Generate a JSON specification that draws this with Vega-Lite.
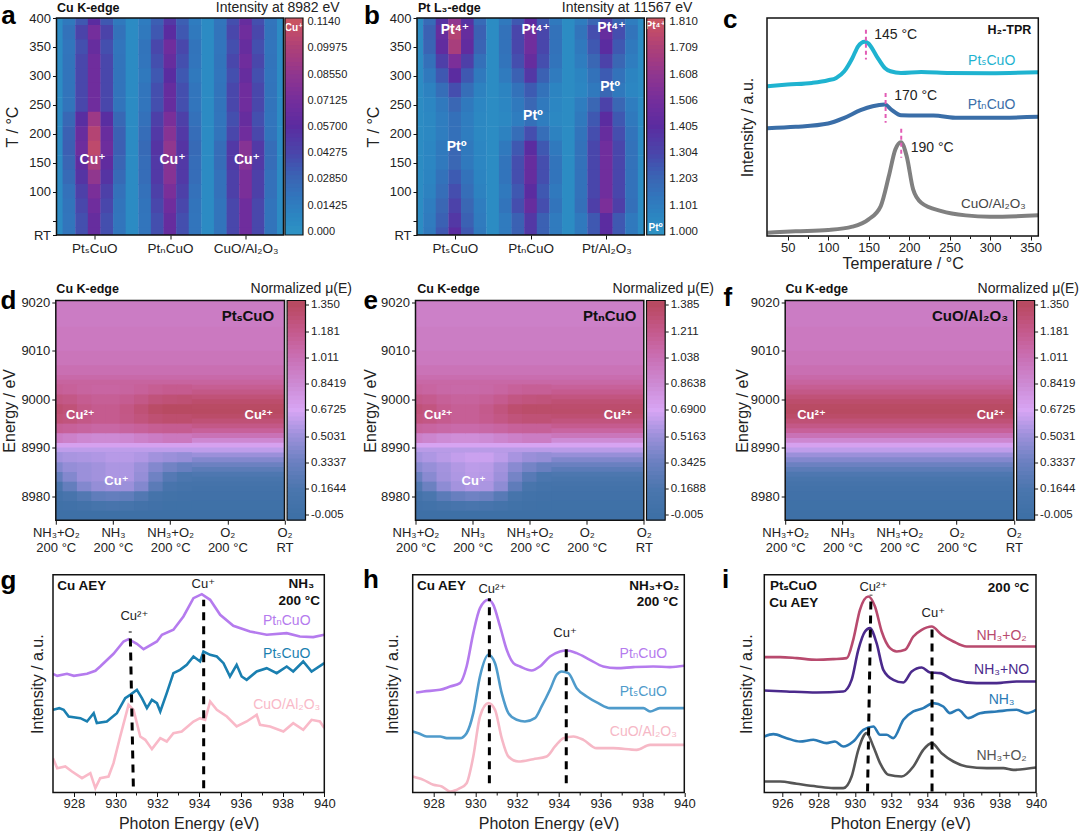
{"$schema":"https://vega.github.io/schema/vega-lite/v6.json","autosize":"pad","padding":0,"background":"white",
"config":{"view":{"stroke":null},"font":"Liberation Sans, DejaVu Sans, sans-serif","axis":{"grid":false,"domain":false,"labelFontSize":13,"titleFontSize":16,"titleFontWeight":"normal","labelColor":"#222","titleColor":"#222","tickColor":"#111","tickSize":4,"labelPadding":2,"labelOverlap":false,"labelFlush":false,"labelBound":false}},
"datasets":{
"cb":[{"t":-0.03},{"t":-0.02},{"t":0},{"t":0.02},{"t":0.04},{"t":0.06},{"t":0.08},{"t":0.1},{"t":0.12},{"t":0.14},{"t":0.16},{"t":0.18},{"t":0.2},{"t":0.22},{"t":0.24},{"t":0.26},{"t":0.28},{"t":0.3},{"t":0.32},{"t":0.34},{"t":0.36},{"t":0.38},{"t":0.4},{"t":0.42},{"t":0.44},{"t":0.46},{"t":0.48},{"t":0.5},{"t":0.52},{"t":0.54},{"t":0.56},{"t":0.58},{"t":0.6},{"t":0.62},{"t":0.64},{"t":0.66},{"t":0.68},{"t":0.7},{"t":0.72},{"t":0.74},{"t":0.76},{"t":0.78},{"t":0.8},{"t":0.82},{"t":0.84},{"t":0.86},{"t":0.88},{"t":0.9},{"t":0.92},{"t":0.94},{"t":0.96},{"t":0.98},{"t":1},{"t":1.02},{"t":1.03}],
"band":[{"y":8975,"y2":8977.3,"v":0},{"y":8977,"y2":8979.3,"v":0.01},{"y":8979,"y2":8981.3,"v":0.03},{"y":8981,"y2":8982.3,"v":0.06},{"y":8982,"y2":8983.3,"v":0.09},{"y":8983,"y2":8984.3,"v":0.13},{"y":8984,"y2":8985.3,"v":0.18},{"y":8985,"y2":8986.3,"v":0.26},{"y":8986,"y2":8987.3,"v":0.34},{"y":8987,"y2":8988.3,"v":0.42},{"y":8988,"y2":8989.3,"v":0.5},{"y":8989,"y2":8990.3,"v":0.6},{"y":8990,"y2":8991.3,"v":0.7},{"y":8991,"y2":8992.3,"v":0.86},{"y":8992,"y2":8993.3,"v":1},{"y":8993,"y2":8994.3,"v":1.12},{"y":8994,"y2":8995.3,"v":1.2},{"y":8995,"y2":8996.3,"v":1.27},{"y":8996,"y2":8997.3,"v":1.32},{"y":8997,"y2":8998.3,"v":1.35},{"y":8998,"y2":8999.3,"v":1.34},{"y":8999,"y2":9000.3,"v":1.31},{"y":9000,"y2":9001.3,"v":1.26},{"y":9001,"y2":9002.3,"v":1.2},{"y":9002,"y2":9003.3,"v":1.15},{"y":9003,"y2":9004.3,"v":1.1},{"y":9004,"y2":9005.3,"v":1.06},{"y":9005,"y2":9007.3,"v":1.02},{"y":9007,"y2":9010.3,"v":0.98},{"y":9010,"y2":9015.3,"v":0.95},{"y":9015,"y2":9021,"v":0.93}],
"up":[{"x":0,"y":8992,"v":0.93},{"x":0.25,"y":8992,"v":0.9},{"x":0.5,"y":8992,"v":0.86},{"x":0.75,"y":8992,"v":0.84},{"x":1,"y":8992,"v":0.84},{"x":1.25,"y":8992,"v":0.86},{"x":1.5,"y":8992,"v":0.9},{"x":1.75,"y":8992,"v":0.93},{"x":2,"y":8992,"v":0.96},{"x":2.25,"y":8992,"v":0.96},
{"x":0,"y":8994,"v":1.14},{"x":0.25,"y":8994,"v":1.12},{"x":0.5,"y":8994,"v":1.1},{"x":0.75,"y":8994,"v":1.08},{"x":1,"y":8994,"v":1.08},{"x":1.25,"y":8994,"v":1.1},{"x":1.5,"y":8994,"v":1.12},{"x":1.75,"y":8994,"v":1.15},{"x":2,"y":8994,"v":1.16},{"x":2.25,"y":8994,"v":1.16},
{"x":0,"y":8996,"v":1.26},{"x":0.25,"y":8996,"v":1.24},{"x":0.5,"y":8996,"v":1.2},{"x":0.75,"y":8996,"v":1.17},{"x":1,"y":8996,"v":1.17},{"x":1.25,"y":8996,"v":1.2},{"x":1.5,"y":8996,"v":1.24},{"x":1.75,"y":8996,"v":1.28},{"x":2,"y":8996,"v":1.3},{"x":2.25,"y":8996,"v":1.3},
{"x":0,"y":8998,"v":1.29},{"x":0.25,"y":8998,"v":1.26},{"x":0.5,"y":8998,"v":1.2},{"x":0.75,"y":8998,"v":1.17},{"x":1,"y":8998,"v":1.17},{"x":1.25,"y":8998,"v":1.21},{"x":1.5,"y":8998,"v":1.27},{"x":1.75,"y":8998,"v":1.33},{"x":2,"y":8998,"v":1.35},{"x":2.25,"y":8998,"v":1.35},
{"x":0,"y":9000,"v":1.22},{"x":0.25,"y":9000,"v":1.2},{"x":0.5,"y":9000,"v":1.16},{"x":0.75,"y":9000,"v":1.14},{"x":1,"y":9000,"v":1.14},{"x":1.25,"y":9000,"v":1.16},{"x":1.5,"y":9000,"v":1.2},{"x":1.75,"y":9000,"v":1.25},{"x":2,"y":9000,"v":1.27},{"x":2.25,"y":9000,"v":1.28},
{"x":0,"y":9002,"v":1.14},{"x":0.25,"y":9002,"v":1.12},{"x":0.5,"y":9002,"v":1.1},{"x":0.75,"y":9002,"v":1.09},{"x":1,"y":9002,"v":1.09},{"x":1.25,"y":9002,"v":1.1},{"x":1.5,"y":9002,"v":1.12},{"x":1.75,"y":9002,"v":1.15},{"x":2,"y":9002,"v":1.17},{"x":2.25,"y":9002,"v":1.17}],
"lowd":[{"x":0,"y":8978,"v":0.02},{"x":0.25,"y":8978,"v":0.03},{"x":0.5,"y":8978,"v":0.06},{"x":0.75,"y":8978,"v":0.1},{"x":1,"y":8978,"v":0.12},{"x":1.25,"y":8978,"v":0.1},{"x":1.5,"y":8978,"v":0.06},{"x":1.75,"y":8978,"v":0.03},{"x":2,"y":8978,"v":0.01},{"x":2.25,"y":8978,"v":0.01},
{"x":0,"y":8980,"v":0.06},{"x":0.25,"y":8980,"v":0.12},{"x":0.5,"y":8980,"v":0.2},{"x":0.75,"y":8980,"v":0.28},{"x":1,"y":8980,"v":0.3},{"x":1.25,"y":8980,"v":0.28},{"x":1.5,"y":8980,"v":0.2},{"x":1.75,"y":8980,"v":0.08},{"x":2,"y":8980,"v":0.04},{"x":2.25,"y":8980,"v":0.03},
{"x":0,"y":8982,"v":0.15},{"x":0.25,"y":8982,"v":0.3},{"x":0.5,"y":8982,"v":0.42},{"x":0.75,"y":8982,"v":0.48},{"x":1,"y":8982,"v":0.5},{"x":1.25,"y":8982,"v":0.5},{"x":1.5,"y":8982,"v":0.42},{"x":1.75,"y":8982,"v":0.25},{"x":2,"y":8982,"v":0.12},{"x":2.25,"y":8982,"v":0.08},
{"x":0,"y":8984,"v":0.3},{"x":0.25,"y":8984,"v":0.42},{"x":0.5,"y":8984,"v":0.5},{"x":0.75,"y":8984,"v":0.52},{"x":1,"y":8984,"v":0.55},{"x":1.25,"y":8984,"v":0.55},{"x":1.5,"y":8984,"v":0.48},{"x":1.75,"y":8984,"v":0.35},{"x":2,"y":8984,"v":0.22},{"x":2.25,"y":8984,"v":0.16},
{"x":0,"y":8986,"v":0.42},{"x":0.25,"y":8986,"v":0.48},{"x":0.5,"y":8986,"v":0.5},{"x":0.75,"y":8986,"v":0.52},{"x":1,"y":8986,"v":0.55},{"x":1.25,"y":8986,"v":0.55},{"x":1.5,"y":8986,"v":0.5},{"x":1.75,"y":8986,"v":0.42},{"x":2,"y":8986,"v":0.36},{"x":2.25,"y":8986,"v":0.32},
{"x":0,"y":8988,"v":0.52},{"x":0.25,"y":8988,"v":0.54},{"x":0.5,"y":8988,"v":0.55},{"x":0.75,"y":8988,"v":0.56},{"x":1,"y":8988,"v":0.58},{"x":1.25,"y":8988,"v":0.58},{"x":1.5,"y":8988,"v":0.56},{"x":1.75,"y":8988,"v":0.52},{"x":2,"y":8988,"v":0.5},{"x":2.25,"y":8988,"v":0.48}],
"lowe":[{"x":0,"y":8978,"v":0.03},{"x":0.25,"y":8978,"v":0.05},{"x":0.5,"y":8978,"v":0.09},{"x":0.75,"y":8978,"v":0.12},{"x":1,"y":8978,"v":0.14},{"x":1.25,"y":8978,"v":0.12},{"x":1.5,"y":8978,"v":0.08},{"x":1.75,"y":8978,"v":0.04},{"x":2,"y":8978,"v":0.02},{"x":2.25,"y":8978,"v":0.01},
{"x":0,"y":8980,"v":0.08},{"x":0.25,"y":8980,"v":0.16},{"x":0.5,"y":8980,"v":0.26},{"x":0.75,"y":8980,"v":0.33},{"x":1,"y":8980,"v":0.36},{"x":1.25,"y":8980,"v":0.34},{"x":1.5,"y":8980,"v":0.24},{"x":1.75,"y":8980,"v":0.1},{"x":2,"y":8980,"v":0.05},{"x":2.25,"y":8980,"v":0.03},
{"x":0,"y":8982,"v":0.2},{"x":0.25,"y":8982,"v":0.35},{"x":0.5,"y":8982,"v":0.47},{"x":0.75,"y":8982,"v":0.54},{"x":1,"y":8982,"v":0.57},{"x":1.25,"y":8982,"v":0.56},{"x":1.5,"y":8982,"v":0.47},{"x":1.75,"y":8982,"v":0.28},{"x":2,"y":8982,"v":0.13},{"x":2.25,"y":8982,"v":0.08},
{"x":0,"y":8984,"v":0.34},{"x":0.25,"y":8984,"v":0.45},{"x":0.5,"y":8984,"v":0.53},{"x":0.75,"y":8984,"v":0.57},{"x":1,"y":8984,"v":0.6},{"x":1.25,"y":8984,"v":0.59},{"x":1.5,"y":8984,"v":0.52},{"x":1.75,"y":8984,"v":0.38},{"x":2,"y":8984,"v":0.24},{"x":2.25,"y":8984,"v":0.16},
{"x":0,"y":8986,"v":0.45},{"x":0.25,"y":8986,"v":0.5},{"x":0.5,"y":8986,"v":0.54},{"x":0.75,"y":8986,"v":0.58},{"x":1,"y":8986,"v":0.61},{"x":1.25,"y":8986,"v":0.6},{"x":1.5,"y":8986,"v":0.54},{"x":1.75,"y":8986,"v":0.45},{"x":2,"y":8986,"v":0.38},{"x":2.25,"y":8986,"v":0.33},
{"x":0,"y":8988,"v":0.54},{"x":0.25,"y":8988,"v":0.57},{"x":0.5,"y":8988,"v":0.6},{"x":0.75,"y":8988,"v":0.63},{"x":1,"y":8988,"v":0.65},{"x":1.25,"y":8988,"v":0.65},{"x":1.5,"y":8988,"v":0.61},{"x":1.75,"y":8988,"v":0.55},{"x":2,"y":8988,"v":0.51},{"x":2.25,"y":8988,"v":0.49}],
"a":[
{"x":3,"y":400,"v":0.005},{"x":4,"y":400,"v":0.017},{"x":5,"y":400,"v":0.035},{"x":6,"y":400,"v":0.057},{"x":7,"y":400,"v":0.035},{"x":8,"y":400,"v":0.017},{"x":9,"y":400,"v":0.005},{"x":10,"y":400,"v":0.015},{"x":11,"y":400,"v":0.032},{"x":12,"y":400,"v":0.051},{"x":13,"y":400,"v":0.032},{"x":14,"y":400,"v":0.015},{"x":15,"y":400,"v":0.005},{"x":16,"y":400,"v":0.019},{"x":17,"y":400,"v":0.039},{"x":18,"y":400,"v":0.063},{"x":19,"y":400,"v":0.039},{"x":20,"y":400,"v":0.019},{"x":21,"y":400,"v":0.005},
{"x":3,"y":375,"v":0.005},{"x":4,"y":375,"v":0.021},{"x":5,"y":375,"v":0.044},{"x":6,"y":375,"v":0.071},{"x":7,"y":375,"v":0.044},{"x":8,"y":375,"v":0.021},{"x":9,"y":375,"v":0.005},{"x":10,"y":375,"v":0.017},{"x":11,"y":375,"v":0.035},{"x":12,"y":375,"v":0.057},{"x":13,"y":375,"v":0.035},{"x":14,"y":375,"v":0.017},{"x":15,"y":375,"v":0.005},{"x":16,"y":375,"v":0.02},{"x":17,"y":375,"v":0.042},{"x":18,"y":375,"v":0.068},{"x":19,"y":375,"v":0.042},{"x":20,"y":375,"v":0.02},{"x":21,"y":375,"v":0.005},
{"x":3,"y":350,"v":0.005},{"x":4,"y":350,"v":0.019},{"x":5,"y":350,"v":0.039},{"x":6,"y":350,"v":0.063},{"x":7,"y":350,"v":0.039},{"x":8,"y":350,"v":0.019},{"x":9,"y":350,"v":0.005},{"x":10,"y":350,"v":0.02},{"x":11,"y":350,"v":0.042},{"x":12,"y":350,"v":0.068},{"x":13,"y":350,"v":0.042},{"x":14,"y":350,"v":0.02},{"x":15,"y":350,"v":0.005},{"x":16,"y":350,"v":0.019},{"x":17,"y":350,"v":0.039},{"x":18,"y":350,"v":0.063},{"x":19,"y":350,"v":0.039},{"x":20,"y":350,"v":0.019},{"x":21,"y":350,"v":0.005},
{"x":3,"y":325,"v":0.005},{"x":4,"y":325,"v":0.02},{"x":5,"y":325,"v":0.042},{"x":6,"y":325,"v":0.068},{"x":7,"y":325,"v":0.042},{"x":8,"y":325,"v":0.02},{"x":9,"y":325,"v":0.005},{"x":10,"y":325,"v":0.019},{"x":11,"y":325,"v":0.039},{"x":12,"y":325,"v":0.063},{"x":13,"y":325,"v":0.039},{"x":14,"y":325,"v":0.019},{"x":15,"y":325,"v":0.005},{"x":16,"y":325,"v":0.02},{"x":17,"y":325,"v":0.042},{"x":18,"y":325,"v":0.068},{"x":19,"y":325,"v":0.042},{"x":20,"y":325,"v":0.02},{"x":21,"y":325,"v":0.005},
{"x":3,"y":300,"v":0.005},{"x":4,"y":300,"v":0.02},{"x":5,"y":300,"v":0.042},{"x":6,"y":300,"v":0.068},{"x":7,"y":300,"v":0.042},{"x":8,"y":300,"v":0.02},{"x":9,"y":300,"v":0.005},{"x":10,"y":300,"v":0.017},{"x":11,"y":300,"v":0.035},{"x":12,"y":300,"v":0.057},{"x":13,"y":300,"v":0.035},{"x":14,"y":300,"v":0.017},{"x":15,"y":300,"v":0.005},{"x":16,"y":300,"v":0.019},{"x":17,"y":300,"v":0.039},{"x":18,"y":300,"v":0.063},{"x":19,"y":300,"v":0.039},{"x":20,"y":300,"v":0.019},{"x":21,"y":300,"v":0.005},
{"x":3,"y":275,"v":0.005},{"x":4,"y":275,"v":0.02},{"x":5,"y":275,"v":0.042},{"x":6,"y":275,"v":0.068},{"x":7,"y":275,"v":0.042},{"x":8,"y":275,"v":0.02},{"x":9,"y":275,"v":0.005},{"x":10,"y":275,"v":0.019},{"x":11,"y":275,"v":0.039},{"x":12,"y":275,"v":0.063},{"x":13,"y":275,"v":0.039},{"x":14,"y":275,"v":0.019},{"x":15,"y":275,"v":0.005},{"x":16,"y":275,"v":0.02},{"x":17,"y":275,"v":0.042},{"x":18,"y":275,"v":0.068},{"x":19,"y":275,"v":0.042},{"x":20,"y":275,"v":0.02},{"x":21,"y":275,"v":0.005},
{"x":3,"y":250,"v":0.005},{"x":4,"y":250,"v":0.02},{"x":5,"y":250,"v":0.042},{"x":6,"y":250,"v":0.068},{"x":7,"y":250,"v":0.042},{"x":8,"y":250,"v":0.02},{"x":9,"y":250,"v":0.005},{"x":10,"y":250,"v":0.019},{"x":11,"y":250,"v":0.039},{"x":12,"y":250,"v":0.063},{"x":13,"y":250,"v":0.039},{"x":14,"y":250,"v":0.019},{"x":15,"y":250,"v":0.005},{"x":16,"y":250,"v":0.02},{"x":17,"y":250,"v":0.042},{"x":18,"y":250,"v":0.068},{"x":19,"y":250,"v":0.042},{"x":20,"y":250,"v":0.02},{"x":21,"y":250,"v":0.005},
{"x":3,"y":225,"v":0.005},{"x":4,"y":225,"v":0.027},{"x":5,"y":225,"v":0.056},{"x":6,"y":225,"v":0.091},{"x":7,"y":225,"v":0.056},{"x":8,"y":225,"v":0.027},{"x":9,"y":225,"v":0.005},{"x":10,"y":225,"v":0.022},{"x":11,"y":225,"v":0.046},{"x":12,"y":225,"v":0.074},{"x":13,"y":225,"v":0.046},{"x":14,"y":225,"v":0.022},{"x":15,"y":225,"v":0.005},{"x":16,"y":225,"v":0.019},{"x":17,"y":225,"v":0.039},{"x":18,"y":225,"v":0.063},{"x":19,"y":225,"v":0.039},{"x":20,"y":225,"v":0.019},{"x":21,"y":225,"v":0.005},
{"x":3,"y":200,"v":0.005},{"x":4,"y":200,"v":0.031},{"x":5,"y":200,"v":0.064},{"x":6,"y":200,"v":0.103},{"x":7,"y":200,"v":0.064},{"x":8,"y":200,"v":0.031},{"x":9,"y":200,"v":0.005},{"x":10,"y":200,"v":0.024},{"x":11,"y":200,"v":0.05},{"x":12,"y":200,"v":0.08},{"x":13,"y":200,"v":0.05},{"x":14,"y":200,"v":0.024},{"x":15,"y":200,"v":0.005},{"x":16,"y":200,"v":0.02},{"x":17,"y":200,"v":0.042},{"x":18,"y":200,"v":0.068},{"x":19,"y":200,"v":0.042},{"x":20,"y":200,"v":0.02},{"x":21,"y":200,"v":0.005},
{"x":3,"y":175,"v":0.005},{"x":4,"y":175,"v":0.032},{"x":5,"y":175,"v":0.067},{"x":6,"y":175,"v":0.108},{"x":7,"y":175,"v":0.067},{"x":8,"y":175,"v":0.032},{"x":9,"y":175,"v":0.005},{"x":10,"y":175,"v":0.026},{"x":11,"y":175,"v":0.053},{"x":12,"y":175,"v":0.086},{"x":13,"y":175,"v":0.053},{"x":14,"y":175,"v":0.026},{"x":15,"y":175,"v":0.005},{"x":16,"y":175,"v":0.024},{"x":17,"y":175,"v":0.05},{"x":18,"y":175,"v":0.08},{"x":19,"y":175,"v":0.05},{"x":20,"y":175,"v":0.024},{"x":21,"y":175,"v":0.005},
{"x":3,"y":150,"v":0.005},{"x":4,"y":150,"v":0.029},{"x":5,"y":150,"v":0.06},{"x":6,"y":150,"v":0.097},{"x":7,"y":150,"v":0.06},{"x":8,"y":150,"v":0.029},{"x":9,"y":150,"v":0.005},{"x":10,"y":150,"v":0.024},{"x":11,"y":150,"v":0.05},{"x":12,"y":150,"v":0.08},{"x":13,"y":150,"v":0.05},{"x":14,"y":150,"v":0.024},{"x":15,"y":150,"v":0.005},{"x":16,"y":150,"v":0.024},{"x":17,"y":150,"v":0.05},{"x":18,"y":150,"v":0.08},{"x":19,"y":150,"v":0.05},{"x":20,"y":150,"v":0.024},{"x":21,"y":150,"v":0.005},
{"x":3,"y":125,"v":0.005},{"x":4,"y":125,"v":0.026},{"x":5,"y":125,"v":0.053},{"x":6,"y":125,"v":0.086},{"x":7,"y":125,"v":0.053},{"x":8,"y":125,"v":0.026},{"x":9,"y":125,"v":0.005},{"x":10,"y":125,"v":0.024},{"x":11,"y":125,"v":0.05},{"x":12,"y":125,"v":0.08},{"x":13,"y":125,"v":0.05},{"x":14,"y":125,"v":0.024},{"x":15,"y":125,"v":0.005},{"x":16,"y":125,"v":0.022},{"x":17,"y":125,"v":0.046},{"x":18,"y":125,"v":0.074},{"x":19,"y":125,"v":0.046},{"x":20,"y":125,"v":0.022},{"x":21,"y":125,"v":0.005},
{"x":3,"y":100,"v":0.005},{"x":4,"y":100,"v":0.022},{"x":5,"y":100,"v":0.046},{"x":6,"y":100,"v":0.074},{"x":7,"y":100,"v":0.046},{"x":8,"y":100,"v":0.022},{"x":9,"y":100,"v":0.005},{"x":10,"y":100,"v":0.022},{"x":11,"y":100,"v":0.046},{"x":12,"y":100,"v":0.074},{"x":13,"y":100,"v":0.046},{"x":14,"y":100,"v":0.022},{"x":15,"y":100,"v":0.005},{"x":16,"y":100,"v":0.022},{"x":17,"y":100,"v":0.046},{"x":18,"y":100,"v":0.074},{"x":19,"y":100,"v":0.046},{"x":20,"y":100,"v":0.022},{"x":21,"y":100,"v":0.005},
{"x":3,"y":75,"v":0.005},{"x":4,"y":75,"v":0.02},{"x":5,"y":75,"v":0.042},{"x":6,"y":75,"v":0.068},{"x":7,"y":75,"v":0.042},{"x":8,"y":75,"v":0.02},{"x":9,"y":75,"v":0.005},{"x":10,"y":75,"v":0.02},{"x":11,"y":75,"v":0.042},{"x":12,"y":75,"v":0.068},{"x":13,"y":75,"v":0.042},{"x":14,"y":75,"v":0.02},{"x":15,"y":75,"v":0.005},{"x":16,"y":75,"v":0.02},{"x":17,"y":75,"v":0.042},{"x":18,"y":75,"v":0.068},{"x":19,"y":75,"v":0.042},{"x":20,"y":75,"v":0.02},{"x":21,"y":75,"v":0.005},
{"x":3,"y":50,"v":0.005},{"x":4,"y":50,"v":0.019},{"x":5,"y":50,"v":0.039},{"x":6,"y":50,"v":0.063},{"x":7,"y":50,"v":0.039},{"x":8,"y":50,"v":0.019},{"x":9,"y":50,"v":0.005},{"x":10,"y":50,"v":0.019},{"x":11,"y":50,"v":0.039},{"x":12,"y":50,"v":0.063},{"x":13,"y":50,"v":0.039},{"x":14,"y":50,"v":0.019},{"x":15,"y":50,"v":0.005},{"x":16,"y":50,"v":0.02},{"x":17,"y":50,"v":0.042},{"x":18,"y":50,"v":0.068},{"x":19,"y":50,"v":0.042},{"x":20,"y":50,"v":0.02},{"x":21,"y":50,"v":0.005},
{"x":3,"y":25,"v":0.005},{"x":4,"y":25,"v":0.019},{"x":5,"y":25,"v":0.039},{"x":6,"y":25,"v":0.063},{"x":7,"y":25,"v":0.039},{"x":8,"y":25,"v":0.019},{"x":9,"y":25,"v":0.005},{"x":10,"y":25,"v":0.019},{"x":11,"y":25,"v":0.039},{"x":12,"y":25,"v":0.063},{"x":13,"y":25,"v":0.039},{"x":14,"y":25,"v":0.019},{"x":15,"y":25,"v":0.005},{"x":16,"y":25,"v":0.02},{"x":17,"y":25,"v":0.042},{"x":18,"y":25,"v":0.068},{"x":19,"y":25,"v":0.042},{"x":20,"y":25,"v":0.02},{"x":21,"y":25,"v":0.005}],
"b":[
{"x":3,"y":400,"v":1.03},{"x":4,"y":400,"v":1.18},{"x":5,"y":400,"v":1.38},{"x":6,"y":400,"v":1.61},{"x":7,"y":400,"v":1.38},{"x":8,"y":400,"v":1.18},{"x":9,"y":400,"v":1.03},{"x":10,"y":400,"v":1.12},{"x":11,"y":400,"v":1.25},{"x":12,"y":400,"v":1.41},{"x":13,"y":400,"v":1.25},{"x":14,"y":400,"v":1.12},{"x":15,"y":400,"v":1.03},{"x":16,"y":400,"v":1.1},{"x":17,"y":400,"v":1.2},{"x":18,"y":400,"v":1.32},{"x":19,"y":400,"v":1.2},{"x":20,"y":400,"v":1.1},{"x":21,"y":400,"v":1.03},
{"x":3,"y":375,"v":1.03},{"x":4,"y":375,"v":1.22},{"x":5,"y":375,"v":1.45},{"x":6,"y":375,"v":1.73},{"x":7,"y":375,"v":1.45},{"x":8,"y":375,"v":1.22},{"x":9,"y":375,"v":1.03},{"x":10,"y":375,"v":1.15},{"x":11,"y":375,"v":1.3},{"x":12,"y":375,"v":1.49},{"x":13,"y":375,"v":1.3},{"x":14,"y":375,"v":1.15},{"x":15,"y":375,"v":1.03},{"x":16,"y":375,"v":1.14},{"x":17,"y":375,"v":1.28},{"x":18,"y":375,"v":1.45},{"x":19,"y":375,"v":1.28},{"x":20,"y":375,"v":1.14},{"x":21,"y":375,"v":1.03},
{"x":3,"y":350,"v":1.03},{"x":4,"y":350,"v":1.21},{"x":5,"y":350,"v":1.43},{"x":6,"y":350,"v":1.69},{"x":7,"y":350,"v":1.43},{"x":8,"y":350,"v":1.21},{"x":9,"y":350,"v":1.03},{"x":10,"y":350,"v":1.15},{"x":11,"y":350,"v":1.3},{"x":12,"y":350,"v":1.49},{"x":13,"y":350,"v":1.3},{"x":14,"y":350,"v":1.15},{"x":15,"y":350,"v":1.03},{"x":16,"y":350,"v":1.12},{"x":17,"y":350,"v":1.25},{"x":18,"y":350,"v":1.41},{"x":19,"y":350,"v":1.25},{"x":20,"y":350,"v":1.12},{"x":21,"y":350,"v":1.03},
{"x":3,"y":325,"v":1.03},{"x":4,"y":325,"v":1.16},{"x":5,"y":325,"v":1.33},{"x":6,"y":325,"v":1.53},{"x":7,"y":325,"v":1.33},{"x":8,"y":325,"v":1.16},{"x":9,"y":325,"v":1.03},{"x":10,"y":325,"v":1.14},{"x":11,"y":325,"v":1.28},{"x":12,"y":325,"v":1.45},{"x":13,"y":325,"v":1.28},{"x":14,"y":325,"v":1.14},{"x":15,"y":325,"v":1.03},{"x":16,"y":325,"v":1.1},{"x":17,"y":325,"v":1.2},{"x":18,"y":325,"v":1.32},{"x":19,"y":325,"v":1.2},{"x":20,"y":325,"v":1.1},{"x":21,"y":325,"v":1.03},
{"x":3,"y":300,"v":1.03},{"x":4,"y":300,"v":1.12},{"x":5,"y":300,"v":1.25},{"x":6,"y":300,"v":1.41},{"x":7,"y":300,"v":1.25},{"x":8,"y":300,"v":1.12},{"x":9,"y":300,"v":1.03},{"x":10,"y":300,"v":1.11},{"x":11,"y":300,"v":1.22},{"x":12,"y":300,"v":1.36},{"x":13,"y":300,"v":1.22},{"x":14,"y":300,"v":1.11},{"x":15,"y":300,"v":1.03},{"x":16,"y":300,"v":1.07},{"x":17,"y":300,"v":1.15},{"x":18,"y":300,"v":1.24},{"x":19,"y":300,"v":1.15},{"x":20,"y":300,"v":1.07},{"x":21,"y":300,"v":1.03},
{"x":3,"y":275,"v":1.03},{"x":4,"y":275,"v":1.08},{"x":5,"y":275,"v":1.17},{"x":6,"y":275,"v":1.28},{"x":7,"y":275,"v":1.17},{"x":8,"y":275,"v":1.08},{"x":9,"y":275,"v":1.03},{"x":10,"y":275,"v":1.07},{"x":11,"y":275,"v":1.15},{"x":12,"y":275,"v":1.24},{"x":13,"y":275,"v":1.15},{"x":14,"y":275,"v":1.07},{"x":15,"y":275,"v":1.03},{"x":16,"y":275,"v":1.06},{"x":17,"y":275,"v":1.12},{"x":18,"y":275,"v":1.2},{"x":19,"y":275,"v":1.12},{"x":20,"y":275,"v":1.06},{"x":21,"y":275,"v":1.03},
{"x":3,"y":250,"v":1.03},{"x":4,"y":250,"v":1.06},{"x":5,"y":250,"v":1.12},{"x":6,"y":250,"v":1.2},{"x":7,"y":250,"v":1.12},{"x":8,"y":250,"v":1.06},{"x":9,"y":250,"v":1.03},{"x":10,"y":250,"v":1.06},{"x":11,"y":250,"v":1.12},{"x":12,"y":250,"v":1.2},{"x":13,"y":250,"v":1.12},{"x":14,"y":250,"v":1.06},{"x":15,"y":250,"v":1.03},{"x":16,"y":250,"v":1.1},{"x":17,"y":250,"v":1.2},{"x":18,"y":250,"v":1.32},{"x":19,"y":250,"v":1.2},{"x":20,"y":250,"v":1.1},{"x":21,"y":250,"v":1.03},
{"x":3,"y":225,"v":1.03},{"x":4,"y":225,"v":1.05},{"x":5,"y":225,"v":1.1},{"x":6,"y":225,"v":1.16},{"x":7,"y":225,"v":1.1},{"x":8,"y":225,"v":1.05},{"x":9,"y":225,"v":1.03},{"x":10,"y":225,"v":1.05},{"x":11,"y":225,"v":1.1},{"x":12,"y":225,"v":1.16},{"x":13,"y":225,"v":1.1},{"x":14,"y":225,"v":1.05},{"x":15,"y":225,"v":1.03},{"x":16,"y":225,"v":1.12},{"x":17,"y":225,"v":1.25},{"x":18,"y":225,"v":1.41},{"x":19,"y":225,"v":1.25},{"x":20,"y":225,"v":1.12},{"x":21,"y":225,"v":1.03},
{"x":3,"y":200,"v":1.03},{"x":4,"y":200,"v":1.05},{"x":5,"y":200,"v":1.1},{"x":6,"y":200,"v":1.16},{"x":7,"y":200,"v":1.1},{"x":8,"y":200,"v":1.05},{"x":9,"y":200,"v":1.03},{"x":10,"y":200,"v":1.08},{"x":11,"y":200,"v":1.17},{"x":12,"y":200,"v":1.28},{"x":13,"y":200,"v":1.17},{"x":14,"y":200,"v":1.08},{"x":15,"y":200,"v":1.03},{"x":16,"y":200,"v":1.14},{"x":17,"y":200,"v":1.28},{"x":18,"y":200,"v":1.45},{"x":19,"y":200,"v":1.28},{"x":20,"y":200,"v":1.14},{"x":21,"y":200,"v":1.03},
{"x":3,"y":175,"v":1.03},{"x":4,"y":175,"v":1.06},{"x":5,"y":175,"v":1.12},{"x":6,"y":175,"v":1.2},{"x":7,"y":175,"v":1.12},{"x":8,"y":175,"v":1.06},{"x":9,"y":175,"v":1.03},{"x":10,"y":175,"v":1.12},{"x":11,"y":175,"v":1.25},{"x":12,"y":175,"v":1.41},{"x":13,"y":175,"v":1.25},{"x":14,"y":175,"v":1.12},{"x":15,"y":175,"v":1.03},{"x":16,"y":175,"v":1.15},{"x":17,"y":175,"v":1.3},{"x":18,"y":175,"v":1.49},{"x":19,"y":175,"v":1.3},{"x":20,"y":175,"v":1.15},{"x":21,"y":175,"v":1.03},
{"x":3,"y":150,"v":1.03},{"x":4,"y":150,"v":1.06},{"x":5,"y":150,"v":1.12},{"x":6,"y":150,"v":1.2},{"x":7,"y":150,"v":1.12},{"x":8,"y":150,"v":1.06},{"x":9,"y":150,"v":1.03},{"x":10,"y":150,"v":1.14},{"x":11,"y":150,"v":1.28},{"x":12,"y":150,"v":1.45},{"x":13,"y":150,"v":1.28},{"x":14,"y":150,"v":1.14},{"x":15,"y":150,"v":1.03},{"x":16,"y":150,"v":1.15},{"x":17,"y":150,"v":1.3},{"x":18,"y":150,"v":1.49},{"x":19,"y":150,"v":1.3},{"x":20,"y":150,"v":1.15},{"x":21,"y":150,"v":1.03},
{"x":3,"y":125,"v":1.03},{"x":4,"y":125,"v":1.07},{"x":5,"y":125,"v":1.15},{"x":6,"y":125,"v":1.24},{"x":7,"y":125,"v":1.15},{"x":8,"y":125,"v":1.07},{"x":9,"y":125,"v":1.03},{"x":10,"y":125,"v":1.14},{"x":11,"y":125,"v":1.28},{"x":12,"y":125,"v":1.45},{"x":13,"y":125,"v":1.28},{"x":14,"y":125,"v":1.14},{"x":15,"y":125,"v":1.03},{"x":16,"y":125,"v":1.15},{"x":17,"y":125,"v":1.3},{"x":18,"y":125,"v":1.49},{"x":19,"y":125,"v":1.3},{"x":20,"y":125,"v":1.15},{"x":21,"y":125,"v":1.03},
{"x":3,"y":100,"v":1.03},{"x":4,"y":100,"v":1.08},{"x":5,"y":100,"v":1.17},{"x":6,"y":100,"v":1.28},{"x":7,"y":100,"v":1.17},{"x":8,"y":100,"v":1.08},{"x":9,"y":100,"v":1.03},{"x":10,"y":100,"v":1.12},{"x":11,"y":100,"v":1.25},{"x":12,"y":100,"v":1.41},{"x":13,"y":100,"v":1.25},{"x":14,"y":100,"v":1.12},{"x":15,"y":100,"v":1.03},{"x":16,"y":100,"v":1.15},{"x":17,"y":100,"v":1.3},{"x":18,"y":100,"v":1.49},{"x":19,"y":100,"v":1.3},{"x":20,"y":100,"v":1.15},{"x":21,"y":100,"v":1.03},
{"x":3,"y":75,"v":1.03},{"x":4,"y":75,"v":1.1},{"x":5,"y":75,"v":1.2},{"x":6,"y":75,"v":1.32},{"x":7,"y":75,"v":1.2},{"x":8,"y":75,"v":1.1},{"x":9,"y":75,"v":1.03},{"x":10,"y":75,"v":1.14},{"x":11,"y":75,"v":1.28},{"x":12,"y":75,"v":1.45},{"x":13,"y":75,"v":1.28},{"x":14,"y":75,"v":1.14},{"x":15,"y":75,"v":1.03},{"x":16,"y":75,"v":1.16},{"x":17,"y":75,"v":1.33},{"x":18,"y":75,"v":1.53},{"x":19,"y":75,"v":1.33},{"x":20,"y":75,"v":1.16},{"x":21,"y":75,"v":1.03},
{"x":3,"y":50,"v":1.03},{"x":4,"y":50,"v":1.11},{"x":5,"y":50,"v":1.22},{"x":6,"y":50,"v":1.36},{"x":7,"y":50,"v":1.22},{"x":8,"y":50,"v":1.11},{"x":9,"y":50,"v":1.03},{"x":10,"y":50,"v":1.11},{"x":11,"y":50,"v":1.22},{"x":12,"y":50,"v":1.36},{"x":13,"y":50,"v":1.22},{"x":14,"y":50,"v":1.11},{"x":15,"y":50,"v":1.03},{"x":16,"y":50,"v":1.12},{"x":17,"y":50,"v":1.25},{"x":18,"y":50,"v":1.41},{"x":19,"y":50,"v":1.25},{"x":20,"y":50,"v":1.12},{"x":21,"y":50,"v":1.03},
{"x":3,"y":25,"v":1.03},{"x":4,"y":25,"v":1.12},{"x":5,"y":25,"v":1.25},{"x":6,"y":25,"v":1.41},{"x":7,"y":25,"v":1.25},{"x":8,"y":25,"v":1.12},{"x":9,"y":25,"v":1.03},{"x":10,"y":25,"v":1.11},{"x":11,"y":25,"v":1.22},{"x":12,"y":25,"v":1.36},{"x":13,"y":25,"v":1.22},{"x":14,"y":25,"v":1.11},{"x":15,"y":25,"v":1.03},{"x":16,"y":25,"v":1.12},{"x":17,"y":25,"v":1.25},{"x":18,"y":25,"v":1.41},{"x":19,"y":25,"v":1.25},{"x":20,"y":25,"v":1.12},{"x":21,"y":25,"v":1.03}],
"c":[{"s":"S","x":25,"y":450},{"s":"S","x":50,"y":455},{"s":"S","x":80,"y":460},{"s":"S","x":100,"y":468},{"s":"S","x":110,"y":475},{"s":"S","x":120,"y":495},{"s":"S","x":130,"y":535},{"s":"S","x":137,"y":570},{"s":"S","x":145,"y":584},{"s":"S","x":150,"y":578},{"s":"S","x":160,"y":540},{"s":"S","x":170,"y":505},{"s":"S","x":177,"y":495},{"s":"S","x":190,"y":490},{"s":"S","x":215,"y":493},{"s":"S","x":250,"y":490},{"s":"S","x":300,"y":489},{"s":"S","x":360,"y":492},
{"s":"N","x":25,"y":324},{"s":"N","x":60,"y":328},{"s":"N","x":100,"y":338},{"s":"N","x":120,"y":355},{"s":"N","x":140,"y":378},{"s":"N","x":155,"y":390},{"s":"N","x":170,"y":395},{"s":"N","x":178,"y":380},{"s":"N","x":190,"y":363},{"s":"N","x":210,"y":362},{"s":"N","x":230,"y":362},{"s":"N","x":260,"y":355},{"s":"N","x":300,"y":355},{"s":"N","x":360,"y":358},
{"s":"A","x":25,"y":10},{"s":"A","x":60,"y":14},{"s":"A","x":100,"y":18},{"s":"A","x":130,"y":28},{"s":"A","x":150,"y":50},{"s":"A","x":165,"y":90},{"s":"A","x":175,"y":180},{"s":"A","x":183,"y":260},{"s":"A","x":190,"y":282},{"s":"A","x":197,"y":240},{"s":"A","x":205,"y":140},{"s":"A","x":215,"y":100},{"s":"A","x":240,"y":75},{"s":"A","x":270,"y":62},{"s":"A","x":300,"y":58},{"s":"A","x":360,"y":62}],
"g":[{"s":"N","x":927,"y":356},{"s":"N","x":927.2,"y":350},{"s":"N","x":927.67,"y":356},{"s":"N","x":928,"y":350},{"s":"N","x":928.63,"y":356},{"s":"N","x":929.03,"y":365},{"s":"N","x":929.26,"y":378},{"s":"N","x":929.9,"y":416},{"s":"N","x":930.38,"y":453},{"s":"N","x":930.62,"y":460},{"s":"N","x":931.02,"y":446},{"s":"N","x":931.34,"y":430},{"s":"N","x":931.98,"y":453},{"s":"N","x":932.22,"y":473},{"s":"N","x":932.77,"y":488},{"s":"N","x":933.25,"y":528},{"s":"N","x":933.73,"y":583},{"s":"N","x":934.13,"y":595},{"s":"N","x":934.53,"y":578},{"s":"N","x":935.01,"y":533},{"s":"N","x":935.64,"y":500},{"s":"N","x":936.44,"y":483},{"s":"N","x":937.24,"y":473},{"s":"N","x":938.2,"y":478},{"s":"N","x":938.83,"y":468},{"s":"N","x":939.47,"y":466},{"s":"N","x":940,"y":473},
{"s":"S","x":927,"y":248},{"s":"S","x":927.3,"y":253},{"s":"S","x":927.51,"y":248},{"s":"S","x":927.75,"y":228},{"s":"S","x":928.31,"y":223},{"s":"S","x":928.63,"y":213},{"s":"S","x":928.95,"y":238},{"s":"S","x":929.1,"y":208},{"s":"S","x":929.58,"y":213},{"s":"S","x":930.06,"y":238},{"s":"S","x":930.46,"y":283},{"s":"S","x":930.7,"y":293},{"s":"S","x":931.02,"y":308},{"s":"S","x":931.26,"y":283},{"s":"S","x":931.5,"y":253},{"s":"S","x":931.74,"y":278},{"s":"S","x":931.98,"y":268},{"s":"S","x":932.14,"y":243},{"s":"S","x":932.45,"y":298},{"s":"S","x":932.77,"y":358},{"s":"S","x":933.09,"y":368},{"s":"S","x":933.41,"y":383},{"s":"S","x":933.73,"y":408},{"s":"S","x":934.05,"y":393},{"s":"S","x":934.21,"y":423},{"s":"S","x":934.53,"y":413},{"s":"S","x":934.85,"y":408},{"s":"S","x":935.17,"y":388},{"s":"S","x":935.48,"y":348},{"s":"S","x":935.8,"y":383},{"s":"S","x":936.04,"y":348},{"s":"S","x":936.28,"y":338},{"s":"S","x":936.76,"y":363},{"s":"S","x":937.24,"y":373},{"s":"S","x":937.72,"y":358},{"s":"S","x":938.2,"y":378},{"s":"S","x":938.51,"y":363},{"s":"S","x":938.99,"y":393},{"s":"S","x":939.39,"y":363},{"s":"S","x":940,"y":388},
{"s":"A","x":927,"y":103},{"s":"A","x":927.2,"y":73},{"s":"A","x":927.59,"y":78},{"s":"A","x":927.91,"y":63},{"s":"A","x":928.39,"y":43},{"s":"A","x":928.79,"y":58},{"s":"A","x":929.03,"y":13},{"s":"A","x":929.26,"y":43},{"s":"A","x":929.66,"y":48},{"s":"A","x":929.9,"y":88},{"s":"A","x":930.22,"y":168},{"s":"A","x":930.62,"y":263},{"s":"A","x":930.86,"y":248},{"s":"A","x":931.18,"y":168},{"s":"A","x":931.42,"y":158},{"s":"A","x":931.74,"y":130},{"s":"A","x":932.14,"y":163},{"s":"A","x":932.45,"y":153},{"s":"A","x":932.77,"y":178},{"s":"A","x":933.17,"y":183},{"s":"A","x":933.73,"y":213},{"s":"A","x":934.05,"y":223},{"s":"A","x":934.29,"y":218},{"s":"A","x":934.53,"y":273},{"s":"A","x":934.85,"y":248},{"s":"A","x":935.33,"y":228},{"s":"A","x":935.8,"y":198},{"s":"A","x":936.28,"y":213},{"s":"A","x":936.76,"y":233},{"s":"A","x":936.92,"y":203},{"s":"A","x":937.4,"y":198},{"s":"A","x":938.04,"y":183},{"s":"A","x":938.51,"y":208},{"s":"A","x":938.99,"y":188},{"s":"A","x":939.39,"y":218},{"s":"A","x":939.79,"y":213},{"s":"A","x":940,"y":193}],
"h":[{"s":"N","x":927.16,"y":300},{"s":"N","x":927.51,"y":303},{"s":"N","x":928.31,"y":308},{"s":"N","x":928.79,"y":318},{"s":"N","x":929.26,"y":328},{"s":"N","x":929.58,"y":378},{"s":"N","x":929.9,"y":478},{"s":"N","x":930.22,"y":553},{"s":"N","x":930.62,"y":578},{"s":"N","x":930.86,"y":563},{"s":"N","x":931.18,"y":498},{"s":"N","x":931.5,"y":428},{"s":"N","x":931.82,"y":388},{"s":"N","x":932.14,"y":378},{"s":"N","x":932.69,"y":366},{"s":"N","x":933.09,"y":378},{"s":"N","x":933.57,"y":408},{"s":"N","x":934.05,"y":423},{"s":"N","x":934.37,"y":426},{"s":"N","x":934.85,"y":418},{"s":"N","x":935.48,"y":398},{"s":"N","x":936.12,"y":378},{"s":"N","x":936.76,"y":373},{"s":"N","x":937.56,"y":376},{"s":"N","x":938.51,"y":378},{"s":"N","x":939.31,"y":376},{"s":"N","x":940,"y":380},
{"s":"S","x":927,"y":183},{"s":"S","x":927.27,"y":178},{"s":"S","x":927.67,"y":168},{"s":"S","x":928.31,"y":168},{"s":"S","x":928.63,"y":163},{"s":"S","x":929.26,"y":163},{"s":"S","x":929.58,"y":178},{"s":"S","x":929.9,"y":238},{"s":"S","x":930.22,"y":348},{"s":"S","x":930.62,"y":413},{"s":"S","x":930.94,"y":388},{"s":"S","x":931.26,"y":298},{"s":"S","x":931.58,"y":238},{"s":"S","x":931.98,"y":218},{"s":"S","x":932.37,"y":213},{"s":"S","x":932.85,"y":223},{"s":"S","x":933.17,"y":258},{"s":"S","x":933.57,"y":308},{"s":"S","x":933.89,"y":353},{"s":"S","x":934.13,"y":363},{"s":"S","x":934.45,"y":358},{"s":"S","x":934.85,"y":313},{"s":"S","x":935.33,"y":288},{"s":"S","x":935.88,"y":268},{"s":"S","x":936.44,"y":253},{"s":"S","x":937.24,"y":253},{"s":"S","x":938.04,"y":253},{"s":"S","x":938.36,"y":243},{"s":"S","x":938.83,"y":253},{"s":"S","x":940,"y":253},
{"s":"A","x":927,"y":48},{"s":"A","x":927.51,"y":38},{"s":"A","x":927.99,"y":23},{"s":"A","x":928.39,"y":18},{"s":"A","x":928.79,"y":3},{"s":"A","x":929.26,"y":13},{"s":"A","x":929.58,"y":28},{"s":"A","x":929.9,"y":108},{"s":"A","x":930.22,"y":228},{"s":"A","x":930.62,"y":268},{"s":"A","x":930.94,"y":248},{"s":"A","x":931.26,"y":163},{"s":"A","x":931.58,"y":108},{"s":"A","x":932.06,"y":93},{"s":"A","x":932.77,"y":100},{"s":"A","x":933.41,"y":108},{"s":"A","x":933.81,"y":138},{"s":"A","x":934.21,"y":163},{"s":"A","x":934.69,"y":168},{"s":"A","x":935.17,"y":158},{"s":"A","x":935.8,"y":133},{"s":"A","x":936.6,"y":133},{"s":"A","x":937.72,"y":128},{"s":"A","x":938.36,"y":143},{"s":"A","x":939.31,"y":143},{"s":"A","x":940,"y":143}],
"i":[{"s":"R","x":925,"y":406},{"s":"R","x":925.87,"y":406},{"s":"R","x":926.79,"y":403},{"s":"R","x":927.89,"y":398},{"s":"R","x":928.81,"y":400},{"s":"R","x":929.55,"y":403},{"s":"R","x":929.91,"y":458},{"s":"R","x":930.28,"y":548},{"s":"R","x":930.74,"y":588},{"s":"R","x":931.11,"y":558},{"s":"R","x":931.48,"y":483},{"s":"R","x":931.94,"y":433},{"s":"R","x":932.31,"y":423},{"s":"R","x":932.77,"y":428},{"s":"R","x":933.23,"y":468},{"s":"R","x":933.69,"y":488},{"s":"R","x":934.24,"y":498},{"s":"R","x":934.79,"y":473},{"s":"R","x":935.44,"y":453},{"s":"R","x":936.17,"y":438},{"s":"R","x":937.28,"y":438},{"s":"R","x":938.75,"y":438},{"s":"R","x":940,"y":438},
{"s":"P","x":925,"y":306},{"s":"P","x":926.23,"y":303},{"s":"P","x":927.89,"y":300},{"s":"P","x":929.36,"y":303},{"s":"P","x":929.82,"y":338},{"s":"P","x":930.19,"y":428},{"s":"P","x":930.56,"y":483},{"s":"P","x":930.83,"y":493},{"s":"P","x":931.2,"y":448},{"s":"P","x":931.57,"y":368},{"s":"P","x":932.12,"y":338},{"s":"P","x":932.68,"y":330},{"s":"P","x":933.14,"y":363},{"s":"P","x":933.69,"y":375},{"s":"P","x":934.15,"y":360},{"s":"P","x":934.7,"y":358},{"s":"P","x":935.44,"y":338},{"s":"P","x":936.72,"y":328},{"s":"P","x":937.83,"y":328},{"s":"P","x":938.93,"y":333},{"s":"P","x":940,"y":333},
{"s":"B","x":925,"y":168},{"s":"B","x":925.5,"y":175},{"s":"B","x":926.23,"y":163},{"s":"B","x":926.97,"y":153},{"s":"B","x":927.71,"y":158},{"s":"B","x":928.44,"y":148},{"s":"B","x":928.9,"y":153},{"s":"B","x":929.36,"y":138},{"s":"B","x":929.91,"y":153},{"s":"B","x":930.47,"y":188},{"s":"B","x":931.02,"y":198},{"s":"B","x":931.39,"y":173},{"s":"B","x":931.75,"y":173},{"s":"B","x":932.12,"y":163},{"s":"B","x":932.68,"y":218},{"s":"B","x":933.23,"y":243},{"s":"B","x":933.78,"y":253},{"s":"B","x":934.33,"y":268},{"s":"B","x":934.88,"y":258},{"s":"B","x":935.25,"y":238},{"s":"B","x":935.71,"y":248},{"s":"B","x":936.26,"y":223},{"s":"B","x":936.91,"y":238},{"s":"B","x":937.83,"y":243},{"s":"B","x":938.93,"y":248},{"s":"B","x":939.49,"y":238},{"s":"B","x":940,"y":248},
{"s":"G","x":925,"y":33},{"s":"G","x":925.87,"y":33},{"s":"G","x":926.79,"y":26},{"s":"G","x":927.89,"y":18},{"s":"G","x":928.81,"y":13},{"s":"G","x":929.36,"y":13},{"s":"G","x":929.82,"y":48},{"s":"G","x":930.19,"y":128},{"s":"G","x":930.65,"y":178},{"s":"G","x":931.02,"y":138},{"s":"G","x":931.39,"y":88},{"s":"G","x":931.85,"y":53},{"s":"G","x":932.58,"y":48},{"s":"G","x":933.23,"y":78},{"s":"G","x":933.78,"y":128},{"s":"G","x":934.24,"y":148},{"s":"G","x":934.79,"y":118},{"s":"G","x":935.44,"y":93},{"s":"G","x":936.17,"y":78},{"s":"G","x":937.28,"y":73},{"s":"G","x":938.2,"y":73},{"s":"G","x":938.75,"y":68},{"s":"G","x":940,"y":75}]
},
"bounds":"flush","spacing":282.5,"resolve":{"scale":{"color":"independent"}},
"vconcat":[
{"bounds":"flush","spacing":2.5,"resolve":{"scale":{"color":"independent"}},"hconcat":[{"width":0.5,"height":1,"data":{"values":[]},"mark":"rect"},
 {"bounds":"flush","spacing":360.5,"resolve":{"scale":{"color":"independent"}},"hconcat":[
  {"bounds":"flush","spacing":1.5,"resolve":{"scale":{"color":"independent"}},"hconcat":[
   {"width":227,"height":217,"layer":[{"encoding":{"x":{"field":"x","type":"quantitative","scale":{"domain":[3,21],"nice":false,"zero":false},"axis":{"values":[6,12,18],"title":null,"labelFontSize":13.5,"labelExpr":"['PtₛCuO','PtₙCuO','CuO/Al₂O₃'][datum.value/6-1]"}},"y":{"field":"y","type":"quantitative","scale":{"domain":[25,400],"nice":false,"zero":false},"axis":{"values":[25,50,100,150,200,250,300,350,400],"title":"T / °C","titlePadding":8,"labelExpr":"datum.value==25?'RT':datum.value==50?'':datum.value"}}},"layer":[
    {"data":{"name":"a"},"mark":{"type":"rect","width":13,"height":15,"clip":true},"encoding":{"color":{"field":"v","type":"quantitative","legend":null,"scale":{"domain":[0,0.114],"clamp":true,"range":["#2E92C4","#2F7DBF","#3A66B4","#4A45AA","#5A2CA0","#742E9C","#8F378F","#AC4178","#C85462"]}}}},
    {"data":{"values":[{"t":"a","x":-1.38,"y":404}]},"mark":{"type":"text","align":"left","baseline":"middle","fontSize":26,"fontWeight":"bold","color":"#000"},"encoding":{"text":{"field":"t"}}},
    {"data":{"values":[{"t":"Cu K-edge","x":3.04,"y":418}]},"mark":{"type":"text","align":"left","baseline":"middle","fontSize":12.5,"fontWeight":"bold","color":"#111"},"encoding":{"text":{"field":"t"}}},
    {"data":{"values":[{"t":"Intensity at 8982 eV","x":25.45,"y":418}]},"mark":{"type":"text","align":"right","baseline":"middle","fontSize":14,"color":"#222"},"encoding":{"text":{"field":"t"}}},
    {"data":{"values":[{"t":"Cu⁺","x":5.86,"y":154},{"t":"Cu⁺","x":12.2,"y":155},{"t":"Cu⁺","x":18.1,"y":155}]},"mark":{"type":"text","fontSize":14,"fontWeight":"bold","color":"#fff"},"encoding":{"text":{"field":"t"}}}]},
    {"data":{"values":[{}]},"mark":{"type":"rect","fill":"transparent","stroke":"#111","strokeWidth":1.5},"encoding":{}}
   ]},
   {"width":18,"height":217,"layer":[{"encoding":{"y":{"field":"t","type":"quantitative","scale":{"domain":[-0.017,1.017],"nice":false,"zero":false},"axis":{"orient":"right","title":null,"tickOpacity":0,"tickSize":0,"labelOverlap":false,"labelFontSize":11,"labelPadding":4,"values":[0,0.125,0.25,0.375,0.5,0.625,0.75,0.875,1],"labelExpr":"['0.000','0.01425','0.02850','0.04275','0.05700','0.07125','0.08550','0.09975','0.1140'][round(datum.value*8)]"}}},"layer":[
    {"data":{"name":"cb"},"mark":{"type":"rect","height":5,"clip":true},"encoding":{"color":{"field":"t","type":"quantitative","legend":null,"scale":{"domain":[0,1],"clamp":true,"range":["#2E92C4","#2F7DBF","#3A66B4","#4A45AA","#5A2CA0","#742E9C","#8F378F","#AC4178","#C85462"]}}}},
    {"data":{"values":[{"l":"Cu⁺","x":0.5,"t":0.97}]},"mark":{"type":"text","fontSize":10,"fontWeight":"bold","color":"#fff"},"encoding":{"x":{"field":"x","type":"quantitative","scale":{"domain":[0,1]},"axis":null},"text":{"field":"l"}}}]},
    {"data":{"values":[{}]},"mark":{"type":"rect","fill":"transparent","stroke":"#111","strokeWidth":1.2},"encoding":{}}
   ]}
  ]},
  {"bounds":"flush","spacing":350,"resolve":{"scale":{"color":"independent"}},"hconcat":[
   {"bounds":"flush","spacing":1.7,"resolve":{"scale":{"color":"independent"}},"hconcat":[
    {"width":227.3,"height":217,"layer":[{"encoding":{"x":{"field":"x","type":"quantitative","scale":{"domain":[3,21],"nice":false,"zero":false},"axis":{"values":[6,12,18],"title":null,"labelFontSize":13.5,"labelExpr":"['PtₛCuO','PtₙCuO','Pt/Al₂O₃'][datum.value/6-1]"}},"y":{"field":"y","type":"quantitative","scale":{"domain":[25,400],"nice":false,"zero":false},"axis":{"values":[25,50,100,150,200,250,300,350,400],"title":"T / °C","titlePadding":8,"labelExpr":"datum.value==25?'RT':datum.value==50?'':datum.value"}}},"layer":[
     {"data":{"name":"b"},"mark":{"type":"rect","width":13,"height":15,"clip":true},"encoding":{"color":{"field":"v","type":"quantitative","legend":null,"scale":{"domain":[1,1.81],"clamp":true,"range":["#2E92C4","#2F7DBF","#3A66B4","#4A45AA","#5A2CA0","#742E9C","#8F378F","#AC4178","#C85462"]}}}},
     {"data":{"values":[{"t":"b","x":-1.2,"y":403}]},"mark":{"type":"text","align":"left","baseline":"middle","fontSize":26,"fontWeight":"bold","color":"#000"},"encoding":{"text":{"field":"t"}}},
     {"data":{"values":[{"t":"Pt L₃-edge","x":3.08,"y":418}]},"mark":{"type":"text","align":"left","baseline":"middle","fontSize":12.5,"fontWeight":"bold","color":"#111"},"encoding":{"text":{"field":"t"}}},
     {"data":{"values":[{"t":"Intensity at 11567 eV","x":24.8,"y":418}]},"mark":{"type":"text","align":"right","baseline":"middle","fontSize":14,"color":"#222"},"encoding":{"text":{"field":"t"}}},
     {"data":{"values":[{"t":"Pt⁴⁺","x":6,"y":380},{"t":"Pt⁴⁺","x":12.4,"y":380},{"t":"Pt⁴⁺","x":18.4,"y":382},{"t":"Pt⁰","x":6.15,"y":177},{"t":"Pt⁰","x":12.2,"y":230},{"t":"Pt⁰","x":18.3,"y":280}]},"mark":{"type":"text","fontSize":14,"fontWeight":"bold","color":"#fff"},"encoding":{"text":{"field":"t"}}}]},
     {"data":{"values":[{}]},"mark":{"type":"rect","fill":"transparent","stroke":"#111","strokeWidth":1.5},"encoding":{}}
    ]},
    {"width":18,"height":217,"layer":[{"encoding":{"y":{"field":"t","type":"quantitative","scale":{"domain":[-0.017,1.017],"nice":false,"zero":false},"axis":{"orient":"right","title":null,"tickOpacity":0,"tickSize":0,"labelOverlap":false,"labelFontSize":11.5,"labelPadding":4,"values":[0,0.125,0.25,0.375,0.5,0.625,0.75,0.875,1],"labelExpr":"['1.000','1.101','1.203','1.304','1.405','1.506','1.608','1.709','1.810'][round(datum.value*8)]"}}},"layer":[
     {"data":{"name":"cb"},"mark":{"type":"rect","height":5,"clip":true},"encoding":{"color":{"field":"t","type":"quantitative","legend":null,"scale":{"domain":[0,1],"clamp":true,"range":["#2E92C4","#2F7DBF","#3A66B4","#4A45AA","#5A2CA0","#742E9C","#8F378F","#AC4178","#C85462"]}}}},
     {"data":{"values":[{"l":"Pt⁴⁺","x":0.5,"t":0.98},{"l":"Pt⁰","x":0.5,"t":0.018}]},"mark":{"type":"text","fontSize":10,"fontWeight":"bold","color":"#fff"},"encoding":{"x":{"field":"x","type":"quantitative","scale":{"domain":[0,1]},"axis":null},"text":{"field":"l"}}}]},
     {"data":{"values":[{}]},"mark":{"type":"rect","fill":"transparent","stroke":"#111","strokeWidth":1.2},"encoding":{}}
    ]}
   ]},
   {"width":271.3,"height":218,"layer":[{"encoding":{"x":{"field":"x","type":"quantitative","scale":{"domain":[24.5,359.6],"nice":false,"zero":false},"axis":{"values":[50,75,100,125,150,175,200,225,250,275,300,325,350],"title":"Temperature / °C","titlePadding":1,"labelPadding":1,"labelExpr":"datum.value%50==0?datum.value:''","tickSize":{"expr":"datum.value%50==0?4:2.5"}}},"y":{"field":"y","type":"quantitative","scale":{"domain":[0,655],"nice":false},"axis":{"labels":false,"ticks":false,"title":"Intensity / a.u.","titlePadding":12}}},"layer":[
    {"data":{"name":"c"},"mark":{"type":"line","strokeWidth":4,"clip":true,"interpolate":"monotone"},"encoding":{"color":{"field":"s","type":"nominal","legend":null,"scale":{"domain":["S","N","A"],"range":["#1FB3D0","#3A6EA8","#808080"]}}}},
    {"data":{"values":[{"g":1,"x":146.7,"y":620},{"g":1,"x":146.7,"y":530},{"g":2,"x":171,"y":430},{"g":2,"x":171,"y":340},{"g":3,"x":190.3,"y":322},{"g":3,"x":190.3,"y":235}]},"mark":{"type":"line","strokeWidth":2,"strokeDash":[4,3],"color":"#E25CB5"},"encoding":{"detail":{"field":"g"}}},
    {"data":{"values":[{"t":"c","x":-30,"y":650}]},"mark":{"type":"text","align":"left","baseline":"middle","fontSize":26,"fontWeight":"bold","color":"#000"},"encoding":{"text":{"field":"t"}}},
    {"data":{"values":[{"t":"145 °C","x":157,"y":605},{"t":"170 °C","x":181.7,"y":420},{"t":"190 °C","x":202,"y":263}]},"mark":{"type":"text","align":"left","baseline":"middle","fontSize":14,"color":"#222"},"encoding":{"text":{"field":"t"}}},
    {"data":{"values":[{"t":"H₂-TPR","x":351,"y":620}]},"mark":{"type":"text","align":"right","baseline":"middle","fontSize":12.5,"fontWeight":"bold","color":"#111"},"encoding":{"text":{"field":"t"}}},
    {"data":{"values":[{"t":"PtₛCuO","x":302,"y":525,"s":"S"},{"t":"PtₙCuO","x":302,"y":395,"s":"N"}]},"mark":{"type":"text","baseline":"middle","fontSize":14},"encoding":{"text":{"field":"t"},"color":{"field":"s","type":"nominal","legend":null}}},
    {"data":{"values":[{"t":"CuO/Al₂O₃","x":304,"y":95}]},"mark":{"type":"text","baseline":"middle","fontSize":13.5,"color":"#444"},"encoding":{"text":{"field":"t"}}}]},
    {"data":{"values":[{}]},"mark":{"type":"rect","fill":"transparent","stroke":"#111","strokeWidth":1.5},"encoding":{}}
   ]}
  ]}
 ]}
]},
{"bounds":"flush","spacing":274.3,"resolve":{"scale":{"color":"independent"}},"vconcat":[
{"bounds":"flush","spacing":1.8,"resolve":{"scale":{"color":"independent"}},"hconcat":[{"width":0.5,"height":1,"data":{"values":[]},"mark":"rect"},
 {"bounds":"flush","spacing":359.7,"resolve":{"scale":{"color":"independent"}},"hconcat":[
  {"bounds":"flush","spacing":2.3,"resolve":{"scale":{"color":"independent"}},"hconcat":[
   {"width":228.7,"height":219.7,"layer":[
    {"data":{"name":"band"},"mark":{"type":"rect","clip":true},"encoding":{"y":{"field":"y","type":"quantitative","scale":{"domain":[8975,9020.4],"nice":false,"zero":false},"axis":{"values":[8980,8985,8990,8995,9000,9005,9010,9015,9020],"title":"Energy / eV","titlePadding":3,"labelExpr":"datum.value%10==0?''+datum.value:''"}},"y2":{"field":"y2"},"color":{"field":"v","type":"quantitative","legend":null,"scale":{"domain":[-0.005,1.35],"clamp":true,"range":["#3E70A6","#4B76AE","#6A80C0","#9C90DA","#D8A6F4","#CD8AD4","#C970B4","#C45A8C","#B84A62"]}}}},
    {"encoding":{"x":{"field":"x","type":"quantitative","scale":{"domain":[0,4],"nice":false,"zero":false},"axis":{"values":[0,1,2,3,4],"title":null,"labelLineHeight":15,"labelExpr":"[['NH₃+O₂','200 °C'],['NH₃','200 °C'],['NH₃+O₂','200 °C'],['O₂','200 °C'],['O₂','RT']][datum.value]"}},"y":{"field":"y","type":"quantitative"}},"layer":[
     {"data":{"name":"lowd"},"mark":{"type":"rect","width":15,"height":10,"clip":true},"encoding":{"color":{"field":"v","type":"quantitative","legend":null}}},
     {"data":{"name":"up"},"mark":{"type":"rect","width":15,"height":10,"clip":true},"encoding":{"color":{"field":"v","type":"quantitative","legend":null}}},
     {"data":{"values":[{"t":"d","x":-0.967,"y":9020.2}]},"mark":{"type":"text","align":"left","baseline":"middle","fontSize":26,"fontWeight":"bold","color":"#000"},"encoding":{"text":{"field":"t"}}},
     {"data":{"values":[{"t":"Cu K-edge","x":0.01,"y":9022.8}]},"mark":{"type":"text","align":"left","baseline":"middle","fontSize":12.5,"fontWeight":"bold","color":"#111"},"encoding":{"text":{"field":"t"}}},
     {"data":{"values":[{"t":"Normalized μ(E)","x":5.18,"y":9022.8}]},"mark":{"type":"text","align":"right","baseline":"middle","fontSize":14,"color":"#222"},"encoding":{"text":{"field":"t"}}},
     {"data":{"values":[{"t":"PtₛCuO","x":3.82,"y":9017.2}]},"mark":{"type":"text","align":"right","baseline":"middle","fontSize":15,"fontWeight":"bold","color":"#111"},"encoding":{"text":{"field":"t"}}},
     {"data":{"values":[{"t":"Cu²⁺","x":0.43,"y":8996.8},{"t":"Cu²⁺","x":3.55,"y":8996.8},{"t":"Cu⁺","x":1.06,"y":8983.2}]},"mark":{"type":"text","baseline":"middle","fontSize":13,"fontWeight":"bold","color":"#fff"},"encoding":{"text":{"field":"t"}}}]},
    {"data":{"values":[{}]},"mark":{"type":"rect","fill":"transparent","stroke":"#111","strokeWidth":1.5},"encoding":{}}
   ]},
   {"width":18.4,"height":219.7,"layer":[
    {"data":{"name":"cb"},"mark":{"type":"rect","height":5,"clip":true},"encoding":{"y":{"field":"t","type":"quantitative","scale":{"domain":[-0.026,1.0205],"nice":false,"zero":false},"axis":{"orient":"right","title":null,"tickSize":3,"labelFontSize":11.5,"labelPadding":2,"values":[0,0.125,0.25,0.375,0.5,0.625,0.75,0.875,1],"labelExpr":"['-0.005','0.1644','0.3337','0.5031','0.6725','0.8419','1.011','1.181','1.350'][round(datum.value*8)]"}},"color":{"field":"t","type":"quantitative","legend":null,"scale":{"domain":[0,1],"clamp":true,"range":["#3E70A6","#4B76AE","#6A80C0","#9C90DA","#D8A6F4","#CD8AD4","#C970B4","#C45A8C","#B84A62"]}}}},
    {"data":{"values":[{}]},"mark":{"type":"rect","fill":"transparent","stroke":"#111","strokeWidth":1.2},"encoding":{}}
   ]}
  ]},
  {"bounds":"flush","spacing":369.7,"resolve":{"scale":{"color":"independent"}},"hconcat":[
   {"bounds":"flush","spacing":2,"resolve":{"scale":{"color":"independent"}},"hconcat":[
    {"width":228.3,"height":219.7,"layer":[
     {"data":{"name":"band"},"mark":{"type":"rect","clip":true},"encoding":{"y":{"field":"y","type":"quantitative","scale":{"domain":[8975,9020.4],"nice":false,"zero":false},"axis":{"values":[8980,8985,8990,8995,9000,9005,9010,9015,9020],"title":"Energy / eV","titlePadding":2,"labelExpr":"datum.value%10==0?''+datum.value:''"}},"y2":{"field":"y2"},"color":{"field":"v","type":"quantitative","legend":null,"scale":{"domain":[-0.005,1.385],"clamp":true,"range":["#3E70A6","#4B76AE","#6A80C0","#9C90DA","#D8A6F4","#CD8AD4","#C970B4","#C45A8C","#B84A62"]}}}},
     {"encoding":{"x":{"field":"x","type":"quantitative","scale":{"domain":[0,4],"nice":false,"zero":false},"axis":{"values":[0,1,2,3,4],"title":null,"labelLineHeight":15,"labelExpr":"[['NH₃+O₂','200 °C'],['NH₃','200 °C'],['NH₃+O₂','200 °C'],['O₂','200 °C'],['O₂','RT']][datum.value]"}},"y":{"field":"y","type":"quantitative"}},"layer":[
      {"data":{"name":"lowe"},"mark":{"type":"rect","width":15,"height":10,"clip":true},"encoding":{"color":{"field":"v","type":"quantitative","legend":null}}},
      {"data":{"name":"up"},"mark":{"type":"rect","width":15,"height":10,"clip":true},"encoding":{"color":{"field":"v","type":"quantitative","legend":null}}},
      {"data":{"values":[{"t":"e","x":-0.91,"y":9020.2}]},"mark":{"type":"text","align":"left","baseline":"middle","fontSize":26,"fontWeight":"bold","color":"#000"},"encoding":{"text":{"field":"t"}}},
      {"data":{"values":[{"t":"Cu K-edge","x":0.03,"y":9022.8}]},"mark":{"type":"text","align":"left","baseline":"middle","fontSize":12.5,"fontWeight":"bold","color":"#111"},"encoding":{"text":{"field":"t"}}},
      {"data":{"values":[{"t":"Normalized μ(E)","x":5.23,"y":9022.8}]},"mark":{"type":"text","align":"right","baseline":"middle","fontSize":14,"color":"#222"},"encoding":{"text":{"field":"t"}}},
      {"data":{"values":[{"t":"PtₙCuO","x":3.87,"y":9017.2}]},"mark":{"type":"text","align":"right","baseline":"middle","fontSize":15,"fontWeight":"bold","color":"#111"},"encoding":{"text":{"field":"t"}}},
      {"data":{"values":[{"t":"Cu²⁺","x":0.4,"y":8996.8},{"t":"Cu²⁺","x":3.55,"y":8996.8},{"t":"Cu⁺","x":1.02,"y":8983.2}]},"mark":{"type":"text","baseline":"middle","fontSize":13,"fontWeight":"bold","color":"#fff"},"encoding":{"text":{"field":"t"}}}]},
     {"data":{"values":[{}]},"mark":{"type":"rect","fill":"transparent","stroke":"#111","strokeWidth":1.5},"encoding":{}}
    ]},
    {"width":18.7,"height":219.7,"layer":[
     {"data":{"name":"cb"},"mark":{"type":"rect","height":5,"clip":true},"encoding":{"y":{"field":"t","type":"quantitative","scale":{"domain":[-0.026,1.0205],"nice":false,"zero":false},"axis":{"orient":"right","title":null,"tickSize":3,"labelFontSize":11.5,"labelPadding":2,"values":[0,0.125,0.25,0.375,0.5,0.625,0.75,0.875,1],"labelExpr":"['-0.005','0.1688','0.3425','0.5163','0.6900','0.8638','1.038','1.211','1.385'][round(datum.value*8)]"}},"color":{"field":"t","type":"quantitative","legend":null,"scale":{"domain":[0,1],"clamp":true,"range":["#3E70A6","#4B76AE","#6A80C0","#9C90DA","#D8A6F4","#CD8AD4","#C970B4","#C45A8C","#B84A62"]}}}},
     {"data":{"values":[{}]},"mark":{"type":"rect","fill":"transparent","stroke":"#111","strokeWidth":1.2},"encoding":{}}
    ]}
   ]},
   {"bounds":"flush","spacing":2.4,"resolve":{"scale":{"color":"independent"}},"hconcat":[
    {"width":228.6,"height":219.7,"layer":[
     {"data":{"name":"band"},"mark":{"type":"rect","clip":true},"encoding":{"y":{"field":"y","type":"quantitative","scale":{"domain":[8975,9020.4],"nice":false,"zero":false},"axis":{"values":[8980,8985,8990,8995,9000,9005,9010,9015,9020],"title":"Energy / eV","titlePadding":0,"labelExpr":"datum.value%10==0?''+datum.value:''"}},"y2":{"field":"y2"},"color":{"field":"v","type":"quantitative","legend":null,"scale":{"domain":[-0.005,1.35],"clamp":true,"range":["#3E70A6","#4B76AE","#6A80C0","#9C90DA","#D8A6F4","#CD8AD4","#C970B4","#C45A8C","#B84A62"]}}}},
     {"encoding":{"x":{"field":"x","type":"quantitative","scale":{"domain":[0,4],"nice":false,"zero":false},"axis":{"values":[0,1,2,3,4],"title":null,"labelLineHeight":15,"labelExpr":"[['NH₃+O₂','200 °C'],['NH₃','200 °C'],['NH₃+O₂','200 °C'],['O₂','200 °C'],['O₂','RT']][datum.value]"}},"y":{"field":"y","type":"quantitative"}},"layer":[
      {"data":{"values":[{"t":"f","x":-1.08,"y":9021}]},"mark":{"type":"text","align":"left","baseline":"middle","fontSize":26,"fontWeight":"bold","color":"#000"},"encoding":{"text":{"field":"t"}}},
      {"data":{"values":[{"t":"Cu K-edge","x":0.005,"y":9022.8}]},"mark":{"type":"text","align":"left","baseline":"middle","fontSize":12.5,"fontWeight":"bold","color":"#111"},"encoding":{"text":{"field":"t"}}},
      {"data":{"values":[{"t":"Normalized μ(E)","x":5.14,"y":9022.8}]},"mark":{"type":"text","align":"right","baseline":"middle","fontSize":14,"color":"#222"},"encoding":{"text":{"field":"t"}}},
      {"data":{"values":[{"t":"CuO/Al₂O₃","x":3.9,"y":9017.2}]},"mark":{"type":"text","align":"right","baseline":"middle","fontSize":15,"fontWeight":"bold","color":"#111"},"encoding":{"text":{"field":"t"}}},
      {"data":{"values":[{"t":"Cu²⁺","x":0.46,"y":8996.8},{"t":"Cu²⁺","x":3.6,"y":8996.8}]},"mark":{"type":"text","baseline":"middle","fontSize":13,"fontWeight":"bold","color":"#fff"},"encoding":{"text":{"field":"t"}}}]},
     {"data":{"values":[{}]},"mark":{"type":"rect","fill":"transparent","stroke":"#111","strokeWidth":1.5},"encoding":{}}
    ]},
    {"width":18,"height":219.7,"layer":[
     {"data":{"name":"cb"},"mark":{"type":"rect","height":5,"clip":true},"encoding":{"y":{"field":"t","type":"quantitative","scale":{"domain":[-0.026,1.0205],"nice":false,"zero":false},"axis":{"orient":"right","title":null,"tickSize":3,"labelFontSize":11.5,"labelPadding":2,"values":[0,0.125,0.25,0.375,0.5,0.625,0.75,0.875,1],"labelExpr":"['-0.005','0.1644','0.3337','0.5031','0.6725','0.8419','1.011','1.181','1.350'][round(datum.value*8)]"}},"color":{"field":"t","type":"quantitative","legend":null,"scale":{"domain":[0,1],"clamp":true,"range":["#3E70A6","#4B76AE","#6A80C0","#9C90DA","#D8A6F4","#CD8AD4","#C970B4","#C45A8C","#B84A62"]}}}},
     {"data":{"values":[{}]},"mark":{"type":"rect","fill":"transparent","stroke":"#111","strokeWidth":1.2},"encoding":{}}
    ]}
   ]}
  ]}
 ]}
]},
{"bounds":"flush","spacing":359.7,"resolve":{"scale":{"color":"independent"}},"hconcat":[
 {"bounds":"flush","resolve":{"scale":{"color":"independent"}},"hconcat":[
 {"width":271.3,"height":217.7,"layer":[{"encoding":{"x":{"field":"x","type":"quantitative","scale":{"domain":[927,940],"nice":false,"zero":false},"axis":{"values":[928,929,930,931,932,933,934,935,936,937,938,939,940],"title":"Photon Energy (eV)","titlePadding":5,"labelPadding":1,"labelExpr":"datum.value%2==0?datum.value:''","tickSize":{"expr":"datum.value%2==0?4:2.5"}}},"y":{"field":"y","type":"quantitative","scale":{"domain":[0,653],"nice":false},"axis":{"labels":false,"ticks":false,"title":"Intensity / a.u.","titlePadding":8}}},"layer":[
  {"data":{"name":"g"},"mark":{"type":"line","strokeWidth":2.6,"clip":true},"encoding":{"color":{"field":"s","type":"nominal","legend":null,"scale":{"domain":["N","S","A"],"range":["#B57BEE","#1A7FB0","#F9B9C8"]}}}},
  {"data":{"values":[{"g":1,"x":930.7,"y":483},{"g":1,"x":930.85,"y":18},{"g":2,"x":934.22,"y":578},{"g":2,"x":934.22,"y":13}]},"mark":{"type":"line","strokeWidth":3,"strokeDash":[8,6],"color":"#000"},"encoding":{"detail":{"field":"g"},"order":{"field":"y"}}},
  {"data":{"values":[{"t":"g","x":924.48,"y":633}]},"mark":{"type":"text","align":"left","baseline":"middle","fontSize":26,"fontWeight":"bold","color":"#000"},"encoding":{"text":{"field":"t"}}},
  {"data":{"values":[{"t":"Cu AEY","x":927.2,"y":618}]},"mark":{"type":"text","align":"left","baseline":"middle","fontSize":13.5,"fontWeight":"bold","color":"#111"},"encoding":{"text":{"field":"t"}}},
  {"data":{"values":[{"t":"NH₃","x":938.9,"y":626},{"t":"200 °C","x":938.8,"y":573}]},"mark":{"type":"text","baseline":"middle","fontSize":13.5,"fontWeight":"bold","color":"#111"},"encoding":{"text":{"field":"t"}}},
  {"data":{"values":[{"t":"Cu²⁺","x":930.9,"y":528},{"t":"Cu⁺","x":934.2,"y":626}]},"mark":{"type":"text","baseline":"middle","fontSize":13,"color":"#222"},"encoding":{"text":{"field":"t"}}},
  {"data":{"values":[{"t":"PtₙCuO","x":938.2,"y":515,"s":"N"},{"t":"PtₛCuO","x":938.2,"y":416,"s":"S"},{"t":"CuO/Al₂O₃","x":938.2,"y":263,"s":"A"}]},"mark":{"type":"text","baseline":"middle","fontSize":14},"encoding":{"text":{"field":"t"},"color":{"field":"s","type":"nominal","legend":null}}}]},
  {"data":{"values":[{}]},"mark":{"type":"rect","fill":"transparent","stroke":"#111","strokeWidth":1.5},"encoding":{}}
 ]}]},
 {"bounds":"flush","spacing":351.6,"resolve":{"scale":{"color":"independent"}},"hconcat":[
  {"bounds":"flush","resolve":{"scale":{"color":"independent"}},"hconcat":[
  {"width":271.6,"height":217.7,"layer":[{"encoding":{"x":{"field":"x","type":"quantitative","scale":{"domain":[927,940],"nice":false,"zero":false},"axis":{"values":[928,929,930,931,932,933,934,935,936,937,938,939,940],"title":"Photon Energy (eV)","titlePadding":5,"labelPadding":1,"labelExpr":"datum.value%2==0?datum.value:''","tickSize":{"expr":"datum.value%2==0?4:2.5"}}},"y":{"field":"y","type":"quantitative","scale":{"domain":[0,653],"nice":false},"axis":{"labels":false,"ticks":false,"title":"Intensity / a.u.","titlePadding":12}}},"layer":[
   {"data":{"name":"h"},"mark":{"type":"line","strokeWidth":2.6,"clip":true,"interpolate":"monotone"},"encoding":{"color":{"field":"s","type":"nominal","legend":null,"scale":{"domain":["N","S","A"],"range":["#B57BEE","#4F9BCB","#F6B8C6"]}}}},
   {"data":{"values":[{"g":1,"x":930.67,"y":583},{"g":1,"x":930.67,"y":28},{"g":2,"x":934.35,"y":443},{"g":2,"x":934.35,"y":28}]},"mark":{"type":"line","strokeWidth":3,"strokeDash":[8,6],"color":"#000"},"encoding":{"detail":{"field":"g"},"order":{"field":"y"}}},
   {"data":{"values":[{"t":"h","x":924.62,"y":638}]},"mark":{"type":"text","align":"left","baseline":"middle","fontSize":26,"fontWeight":"bold","color":"#000"},"encoding":{"text":{"field":"t"}}},
   {"data":{"values":[{"t":"Cu AEY","x":927.2,"y":618}]},"mark":{"type":"text","align":"left","baseline":"middle","fontSize":13.5,"fontWeight":"bold","color":"#111"},"encoding":{"text":{"field":"t"}}},
   {"data":{"values":[{"t":"NH₃+O₂","x":939.76,"y":620},{"t":"200 °C","x":939.71,"y":570}]},"mark":{"type":"text","align":"right","baseline":"middle","fontSize":13.5,"fontWeight":"bold","color":"#111"},"encoding":{"text":{"field":"t"}}},
   {"data":{"values":[{"t":"Cu²⁺","x":930.81,"y":610},{"t":"Cu⁺","x":934.29,"y":478}]},"mark":{"type":"text","baseline":"middle","fontSize":13,"color":"#222"},"encoding":{"text":{"field":"t"}}},
   {"data":{"values":[{"t":"PtₙCuO","x":938.04,"y":416,"s":"N"},{"t":"PtₛCuO","x":938.04,"y":301,"s":"S"},{"t":"CuO/Al₂O₃","x":938.04,"y":181,"s":"A"}]},"mark":{"type":"text","baseline":"middle","fontSize":14},"encoding":{"text":{"field":"t"},"color":{"field":"s","type":"nominal","legend":null}}}]},
   {"data":{"values":[{}]},"mark":{"type":"rect","fill":"transparent","stroke":"#111","strokeWidth":1.5},"encoding":{}}
  ]}]},
  {"width":271.7,"height":217.7,"layer":[{"encoding":{"x":{"field":"x","type":"quantitative","scale":{"domain":[925,940],"nice":false,"zero":false},"axis":{"values":[926,927,928,929,930,931,932,933,934,935,936,937,938,939,940],"title":"Photon Energy (eV)","titlePadding":5,"labelPadding":1,"labelExpr":"datum.value%2==0?datum.value:''","tickSize":{"expr":"datum.value%2==0?4:2.5"}}},"y":{"field":"y","type":"quantitative","scale":{"domain":[0,653],"nice":false},"axis":{"labels":false,"ticks":false,"title":"Intensity / a.u.","titlePadding":10}}},"layer":[
   {"data":{"name":"i"},"mark":{"type":"line","strokeWidth":2.6,"clip":true,"interpolate":"monotone"},"encoding":{"color":{"field":"s","type":"nominal","legend":null,"scale":{"domain":["R","P","B","G"],"range":["#B84A6E","#4B2A8C","#2A7AB5","#555555"]}}}},
   {"data":{"values":[{"g":1,"x":930.89,"y":593},{"g":1,"x":930.7,"y":3},{"g":2,"x":934.26,"y":503},{"g":2,"x":934.26,"y":3}]},"mark":{"type":"line","strokeWidth":3,"strokeDash":[8,6],"color":"#000"},"encoding":{"detail":{"field":"g"},"order":{"field":"y"}}},
   {"data":{"values":[{"t":"i","x":922.66,"y":638}]},"mark":{"type":"text","align":"left","baseline":"middle","fontSize":26,"fontWeight":"bold","color":"#000"},"encoding":{"text":{"field":"t"}}},
   {"data":{"values":[{"t":"PtₛCuO","x":925.31,"y":618},{"t":"Cu AEY","x":925.28,"y":568}]},"mark":{"type":"text","align":"left","baseline":"middle","fontSize":13.5,"fontWeight":"bold","color":"#111"},"encoding":{"text":{"field":"t"}}},
   {"data":{"values":[{"t":"200 °C","x":939.63,"y":613}]},"mark":{"type":"text","align":"right","baseline":"middle","fontSize":13.5,"fontWeight":"bold","color":"#111"},"encoding":{"text":{"field":"t"}}},
   {"data":{"values":[{"t":"Cu²⁺","x":931.02,"y":616},{"t":"Cu⁺","x":934.33,"y":538}]},"mark":{"type":"text","baseline":"middle","fontSize":13,"color":"#222"},"encoding":{"text":{"field":"t"}}},
   {"data":{"values":[{"t":"NH₃+O₂","x":938.1,"y":468,"s":"R"},{"t":"NH₃+NO","x":938.1,"y":368,"s":"P"},{"t":"NH₃","x":938.1,"y":276,"s":"B"},{"t":"NH₃+O₂","x":938.1,"y":110,"s":"G"}]},"mark":{"type":"text","baseline":"middle","fontSize":14},"encoding":{"text":{"field":"t"},"color":{"field":"s","type":"nominal","legend":null}}}]},
   {"data":{"values":[{}]},"mark":{"type":"rect","fill":"transparent","stroke":"#111","strokeWidth":1.5},"encoding":{}}
  ]}
 ]}
]}
]}
]}
